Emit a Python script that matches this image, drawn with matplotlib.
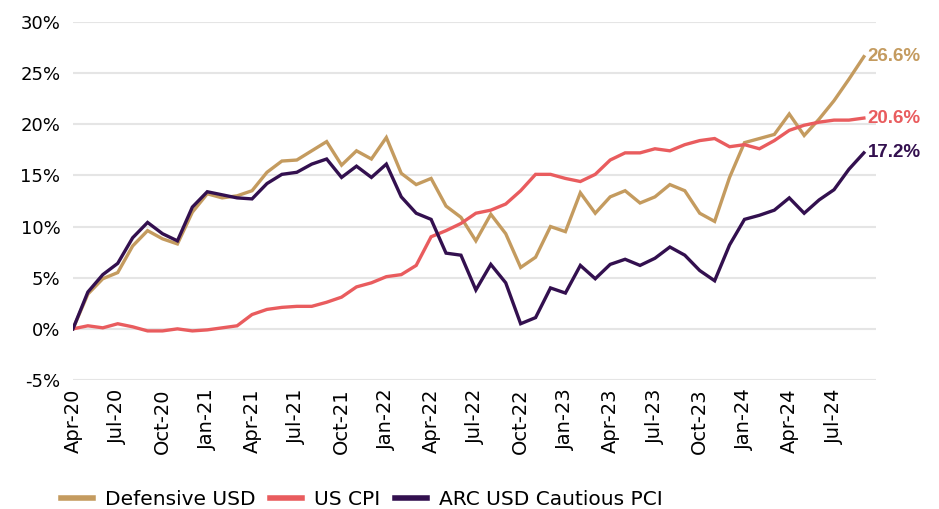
import matplotlib.pyplot as plt
import numpy as np

# monthly, Apr-20 .. Sep-24
defensive_usd = [0.0, 3.4, 4.9, 5.5, 8.1, 9.6, 8.8, 8.3, 11.4, 13.2, 12.8, 13.0,
                 13.5, 15.3, 16.4, 16.5, 17.4, 18.3, 16.0, 17.4, 16.6, 18.7, 15.2, 14.1,
                 14.7, 12.0, 10.9, 8.6, 11.2, 9.3, 6.0, 7.0, 10.0, 9.5, 13.3, 11.3,
                 12.9, 13.5, 12.3, 12.9, 14.1, 13.5, 11.3, 10.5, 14.8, 18.2, 18.6, 19.0,
                 21.0, 18.9, 20.5, 22.3, 24.4, 26.6]
us_cpi = [0.0, 0.3, 0.1, 0.5, 0.2, -0.2, -0.2, 0.0, -0.2, -0.1, 0.1, 0.3,
          1.4, 1.9, 2.1, 2.2, 2.2, 2.6, 3.1, 4.1, 4.5, 5.1, 5.3, 6.2,
          9.0, 9.6, 10.3, 11.3, 11.6, 12.2, 13.5, 15.1, 15.1, 14.7, 14.4, 15.1,
          16.5, 17.2, 17.2, 17.6, 17.4, 18.0, 18.4, 18.6, 17.8, 18.0, 17.6, 18.4,
          19.4, 19.9, 20.2, 20.4, 20.4, 20.6]
arc_cautious = [0.0, 3.6, 5.3, 6.4, 8.9, 10.4, 9.3, 8.6, 11.9, 13.4, 13.1, 12.8,
                12.7, 14.2, 15.1, 15.3, 16.1, 16.6, 14.8, 15.9, 14.8, 16.1, 12.9, 11.3,
                10.7, 7.4, 7.2, 3.8, 6.3, 4.5, 0.5, 1.1, 4.0, 3.5, 6.2, 4.9,
                6.3, 6.8, 6.2, 6.9, 8.0, 7.2, 5.7, 4.7, 8.2, 10.7, 11.1, 11.6,
                12.8, 11.3, 12.6, 13.6, 15.6, 17.2]

tick_labels = ['Apr-20', 'Jul-20', 'Oct-20', 'Jan-21', 'Apr-21', 'Jul-21', 'Oct-21',
               'Jan-22', 'Apr-22', 'Jul-22', 'Oct-22', 'Jan-23', 'Apr-23', 'Jul-23',
               'Oct-23', 'Jan-24', 'Apr-24', 'Jul-24']

series = [('Defensive USD', defensive_usd, '#C49B5F'),
          ('US CPI', us_cpi, '#E95C5E'),
          ('ARC USD Cautious PCI', arc_cautious, '#33104F')]

fig = plt.figure(figsize=(9.39, 5.09), dpi=100)
ax = fig.add_axes([0.0777, 0.2534, 0.855, 0.7036])

x = np.arange(len(defensive_usd))
for name, vals, col in series:
    ax.plot(x, vals, color=col, lw=2.4, label=name, solid_joinstyle='miter')
    ax.text(x[-1] + 0.25, vals[-1], f'{vals[-1]:.1f}%', color=col, fontsize=13.5,
            fontweight='bold', family='Liberation Sans', ha='left', va='center')

ax.set_xlim(0, 53.8)
ax.set_ylim(-5, 30)
ax.set_yticks(np.arange(-5, 31, 5))
ax.set_yticklabels([f'{v}%' for v in range(-5, 31, 5)], fontsize=13)
ax.set_xticks(x[::3])
ax.set_xticklabels(tick_labels, rotation=90, fontsize=14)
ax.tick_params(length=0, pad=6)
ax.tick_params(axis='y', pad=9)

ax.grid(axis='y', color='#E5E5E5', lw=1.5)
ax.set_axisbelow(True)
for s in ax.spines.values():
    s.set_visible(False)

leg = ax.legend(loc='lower left', bbox_to_anchor=(-0.03, -0.395), ncol=3, frameon=False,
                fontsize=14.5, handlelength=1.6, handletextpad=0.6, columnspacing=0.7,
                borderaxespad=0.2)
for line in leg.get_lines():
    line.set_linewidth(4)

plt.savefig('out.png', dpi=100)
